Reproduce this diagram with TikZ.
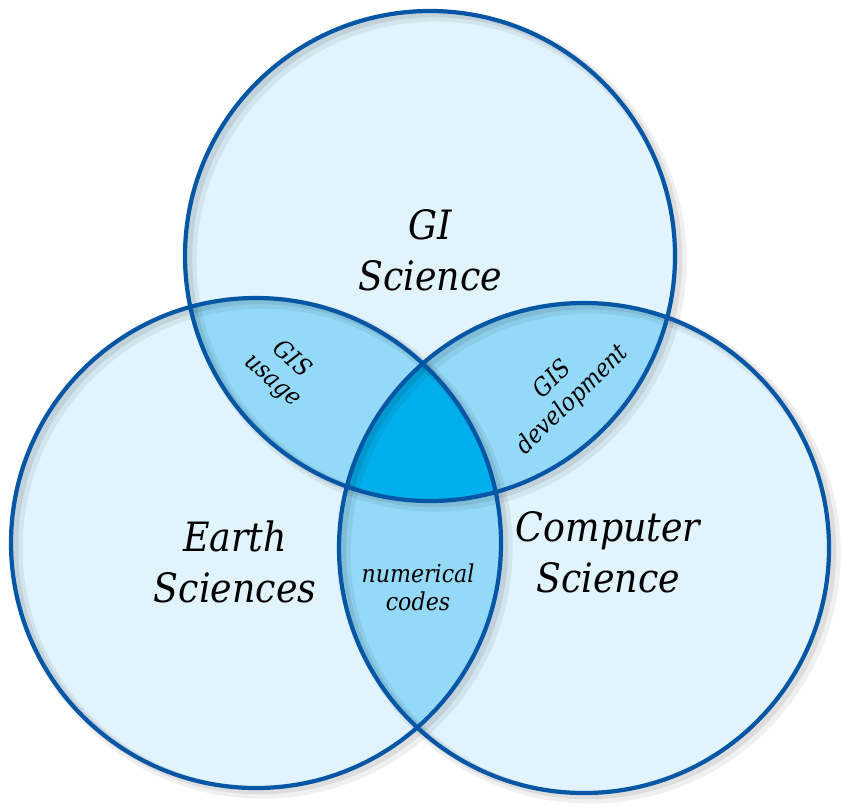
\documentclass[tikz,border=0pt]{standalone}
\usepackage{fontspec}
\setmainfont{DejaVu Serif Condensed}
\usetikzlibrary{positioning}

\definecolor{setfill}{HTML}{E1F3FC}
\definecolor{pairfill}{HTML}{94D9F7}
\definecolor{corefill}{HTML}{00AFEC}
\definecolor{setline}{HTML}{0556A5}

\begin{document}
\begin{tikzpicture}[
  setedge/.style={draw=setline, line width=1.2pt},
  shade1/.style={draw=black, opacity=0.06, line width=3.2pt},
  shade2/.style={draw=black, opacity=0.08, line width=1.8pt},
  biglabel/.style={font=\itshape\fontsize{11.5}{14.4}\selectfont, align=center, inner sep=0pt},
  smalllabel/.style={font=\itshape\fontsize{7}{8}\selectfont, align=center, inner sep=0pt}
]
\def\rad{2.45}
\useasboundingbox (0,0) rectangle (8.5,-8.11);

% Set centres
\coordinate (gis) at (4.30,-2.56);
\coordinate (earth) at (2.56,-5.43);
\coordinate (comp) at (5.84,-5.48);

% Set fills
\foreach \c in {gis,earth,comp}
  \fill[setfill] (\c) circle (\rad);

% Overlaps of two sets
\begin{scope}
  \clip (gis) circle (\rad);
  \fill[pairfill] (earth) circle (\rad);
  \fill[pairfill] (comp) circle (\rad);
\end{scope}
\begin{scope}
  \clip (earth) circle (\rad);
  \fill[pairfill] (comp) circle (\rad);
\end{scope}

% Overlap of all three
\begin{scope}
  \clip (gis) circle (\rad);
  \clip (earth) circle (\rad);
  \fill[corefill] (comp) circle (\rad);
\end{scope}

% Soft shadow under the outlines
\foreach \c in {gis,earth,comp} {
  \draw[shade1] ([shift={(0.06,-0.05)}]\c) circle (\rad);
  \draw[shade2] ([shift={(0.04,-0.03)}]\c) circle (\rad);
}

% Outlines
\foreach \c in {gis,earth,comp}
  \draw[setedge] (\c) circle (\rad);

% Labels
\node[biglabel] (gislbl) at (4.30,-2.50) {GI\\Science};
\node[biglabel] (earthlbl) at (2.35,-5.62) {Earth\\Sciences};
\node[biglabel] (complbl) at (6.08,-5.52) {Computer\\Science};
\node[smalllabel, rotate=-42] (usagelbl) at (2.82,-3.70) {GIS\\usage};
\node[smalllabel, rotate=44] (devlbl) at (5.63,-3.90) {GIS\\development};
\node[smalllabel] (codeslbl) at (4.18,-5.87) {numerical\\codes};

\end{tikzpicture}
\end{document}
